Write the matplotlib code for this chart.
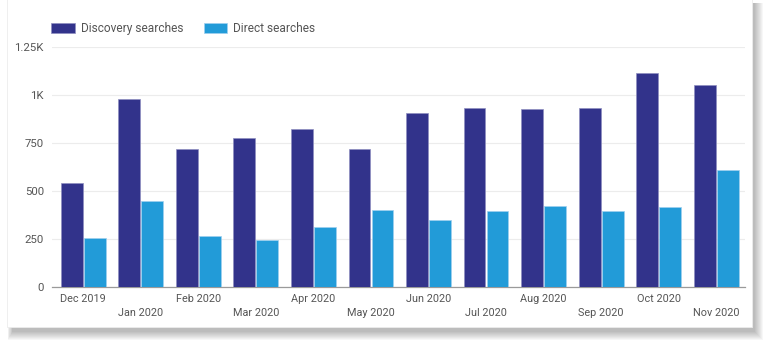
import matplotlib.pyplot as plt
import numpy as np
from matplotlib.patches import Rectangle

months = ["Dec 2019", "Jan 2020", "Feb 2020", "Mar 2020", "Apr 2020", "May 2020",
          "Jun 2020", "Jul 2020", "Aug 2020", "Sep 2020", "Oct 2020", "Nov 2020"]
discovery = [542, 979, 719, 776, 823, 719, 906, 932, 927, 932, 1115, 1052]
direct = [255, 448, 266, 245, 312, 401, 349, 396, 422, 396, 417, 609]
yticks = [0, 250, 500, 750, 1000, 1250]
ytick_labels = ["0", "250", "500", "750", "1K", "1.25K"]

plt.rcParams["font.family"] = ["Roboto", "DejaVu Sans"]

W, H = 768, 346
fig = plt.figure(figsize=(W / 100, H / 100), dpi=100)
fig.patch.set_facecolor("white")

# card (pixel coords) with a soft drop shadow to the right and below
cx0, cx1, cy0, cy1 = 7, 752, -5, 327
for k in range(9, 0, -1):
    sx0 = cx0 + 6 - k * 0.6
    sx1 = cx1 + 2 + k
    sy0 = cy0 + 8
    sy1 = cy1 + 4 + k
    fig.patches.append(Rectangle((sx0 / W, 1 - sy1 / H), (sx1 - sx0) / W, (sy1 - sy0) / H,
                                 transform=fig.transFigure, facecolor="black",
                                 edgecolor="none", alpha=0.03, zorder=0))
fig.patches.append(Rectangle((cx0 / W, 1 - cy1 / H), (cx1 - cx0) / W, (cy1 - cy0) / H,
                             transform=fig.transFigure, facecolor="white",
                             edgecolor="#ececec", linewidth=0.6, zorder=1))

ax = fig.add_axes([0.068, 0.1705, 0.902, 0.6935])
ax.set_facecolor("none")
ax.set_zorder(2)

x = np.arange(len(months))
w = 0.38
ax.bar(x - 0.2, discovery, w, color="#32338b", edgecolor="#8f8fc0", linewidth=0.5,
       label="Discovery searches", zorder=3)
ax.bar(x + 0.2, direct, w, color="#229bd8", edgecolor="#9fd0ee", linewidth=0.5,
       label="Direct searches", zorder=3)

ax.set_xlim(-0.54, 11.5)
ax.set_ylim(0, 1250)
ax.set_yticks(yticks)
ax.set_yticklabels(ytick_labels)
ax.grid(axis="y", color="#ececec", linewidth=0.8, zorder=0)
ax.set_axisbelow(True)
for s in ["top", "right", "left"]:
    ax.spines[s].set_visible(False)
ax.spines["bottom"].set_color("#9a9a9a")
ax.spines["bottom"].set_linewidth(0.9)

ax.set_xticks(x)
ax.set_xticklabels(["\n" + m if i % 2 else m for i, m in enumerate(months)])
ax.tick_params(axis="x", length=0, pad=5, labelsize=7.8, labelcolor="#555555")
ax.tick_params(axis="y", length=0, pad=6, labelsize=8.2, labelcolor="#555555")
for lab in ax.get_xticklabels():
    lab.set_linespacing(1.5)

ax.legend(loc="lower left", bbox_to_anchor=(-0.008, 1.03), ncol=2, frameon=False,
          fontsize=8.6, labelcolor="#555555", handlelength=2.0, handleheight=0.9,
          columnspacing=1.7, handletextpad=0.45, borderaxespad=0)

fig.savefig("out.png", dpi=100)
